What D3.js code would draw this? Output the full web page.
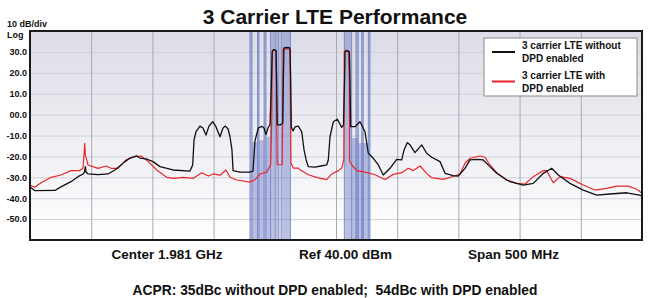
<!DOCTYPE html>
<html>
<head>
<meta charset="utf-8">
<script src="https://cdn.jsdelivr.net/npm/d3@7"></script>
<style>
  body { margin: 0; background: #fff; }
  svg text { font-family: "Liberation Sans", Arial, Helvetica, sans-serif; font-weight: bold; fill: #111; }
</style>
</head>
<body>
<div id="chart"></div>
<script>
// frequency in MHz, level in dBm
const freqDomain = [1731, 2231];
const levelDomain = [-60, 40];
const freqGrid = [1781, 1831, 1881, 1931, 1981, 2031, 2081, 2131, 2181];
const levelTicks = [30, 20, 10, 0, -10, -20, -30, -40, -50];
const levelLabels = ["30.0", "20.0", "10.0", "00.0", "-10.0", "-20.0", "-30.0", "-40.0", "-50.0"];

// 3 carrier LTE without DPD
const noDpdFreq = [1731, 1735.1, 1751.4, 1756.3, 1764.5, 1770.2, 1774.3, 1775.5, 1776.2, 1776.8, 1778.4, 1786.6, 1794.7,
  1800.4, 1808.6, 1812.7, 1818.2, 1820.9, 1825.8, 1831.5, 1837.2, 1847.8, 1861.7, 1863.9, 1865.0, 1866.6, 1869.9, 1872.3,
  1874.8, 1877.2, 1880.3, 1883.0, 1886.2, 1888.7, 1890.6, 1892.8, 1894.4, 1896.0, 1896.9, 1902.6, 1910.7, 1913.2, 1914.8,
  1917.5, 1920.3, 1922.2, 1923.8, 1925.4, 1927.1, 1928.3, 1928.9, 1929.9, 1932.0, 1932.5, 1933.0, 1935.3, 1937.5, 1938.0,
  1938.5, 1941.0, 1943.4, 1944.0, 1944.5, 1945.9, 1947.5, 1950.2, 1953.0, 1954.9, 1956.6, 1958.4, 1963.8, 1968.7, 1973.4,
  1974.7, 1976.1, 1978.8, 1982.1, 1985.7, 1987.1, 1988.0, 1988.4, 1990.0, 1991.9, 1992.4, 1993.0, 1996.5, 2000.6, 2004.7,
  2007.4, 2011.5, 2015.6, 2019.6, 2025.1, 2030.6, 2034.7, 2036.6, 2039.3, 2041.5, 2045.5, 2051.0, 2055.1, 2059.2, 2066.0,
  2070.1, 2076.8, 2080.9, 2086.4, 2090.5, 2096.0, 2101.3, 2106.8, 2112.3, 2120.5, 2123.2, 2134.0, 2142.2, 2150.4, 2157.2,
  2162.6, 2172.2, 2183.0, 2194.0, 2204.9, 2218.5, 2229.0, 2231];
const noDpdLevel = [-34.6, -36.4, -36.3, -34.6, -32.1, -29.7, -28.4, -27.5, -24.9, -27.5, -28.4, -28.7, -28.4,
  -26.5, -22.5, -20.8, -19.8, -20.8, -21.2, -22.5, -24.9, -26.5, -27.0, -24.1, -12.2, -8.2, -5.5, -6.4,
  -9.8, -5.5, -3.4, -5.9, -10.6, -6.4, -5.5, -6.9, -10.6, -16.9, -26.8, -27.5, -27.5, -27.0, -12.6,
  -6.4, -5.6, -6.4, -9.6, -6.4, -4.8, 16.6, 30.3, 31.1, 30.7, 16.6, -4.8, -5.0, -4.0, 16.6,
  31.9, 32.2, 31.9, 16.6, -5.9, -7.8, -5.9, -5.5, -8.2, -16.9, -21.7, -24.9, -25.1, -24.6, -24.1,
  -21.7, -10.6, -3.4, -2.2, -6.1, -5.0, 16.6, 30.0, 30.6, 30.0, 16.6, -5.8, -5.8, -3.4, -8.2,
  -18.5, -20.9, -24.1, -28.9, -25.7, -21.4, -21.7, -16.9, -13.4, -14.5, -18.2, -14.5, -18.5, -20.4, -22.5,
  -28.1, -29.2, -29.4, -25.7, -21.7, -21.4, -21.7, -24.9, -28.1, -31.3, -32.1, -33.7, -32.9, -28.1, -25.7,
  -28.9, -32.9, -36.1, -38.5, -38.0, -37.4, -38.5, -39.0];

// 3 carrier LTE with DPD
const dpdFreq = [1731, 1734.8, 1740.0, 1748.2, 1756.3, 1764.5, 1771.6, 1774.3, 1775.4, 1775.7, 1776.2, 1778.4, 1786.6,
  1793.1, 1797.2, 1802.9, 1809.4, 1816.5, 1821.7, 1827.7, 1834.5, 1842.7, 1848.1, 1856.2, 1864.4, 1871.3, 1876.7, 1880.8,
  1886.2, 1891.1, 1894.4, 1899.9, 1910.7, 1914.8, 1918.9, 1924.4, 1927.6, 1928.5, 1928.9, 1930.4, 1932.0, 1932.5, 1933.0,
  1937.0, 1937.4, 1937.8, 1941.0, 1943.4, 1943.9, 1944.2, 1946.1, 1950.2, 1951.6, 1958.4, 1966.5, 1973.4, 1977.5, 1982.9,
  1985.7, 1987.4, 1987.8, 1988.8, 1991.2, 1991.9, 1992.1, 1993.8, 1997.9, 2004.7, 2012.9, 2018.3, 2021.0, 2027.8, 2034.7,
  2040.1, 2044.2, 2049.6, 2055.1, 2059.2, 2068.7, 2078.2, 2082.3, 2086.4, 2090.5, 2098.7, 2102.7, 2106.8, 2112.3, 2120.5,
  2128.6, 2135.4, 2142.2, 2150.4, 2153.1, 2155.0, 2158.5, 2164.0, 2172.2, 2183.0, 2192.6, 2202.2, 2210.3, 2219.8, 2226.7, 2231];
const dpdLevel = [-33.7, -34.8, -32.6, -30.0, -28.9, -26.8, -26.8, -25.7, -16.9, -13.7, -19.3, -24.1, -25.7,
  -24.6, -25.7, -25.7, -21.7, -20.1, -19.8, -22.5, -26.5, -30.0, -30.5, -30.0, -30.5, -27.8, -29.4, -28.4,
  -29.0, -26.5, -30.0, -31.3, -32.3, -31.2, -28.4, -27.5, -24.0, -2.6, 30.0, 30.9, 30.4, -2.6, -24.0,
  -24.0, -2.6, 31.4, 31.6, 31.4, -2.6, -23.2, -25.6, -25.6, -26.4, -28.8, -30.3, -31.1, -28.4, -26.8,
  -25.6, -21.7, 30.0, 30.9, 30.4, 16.6, -22.3, -24.0, -26.8, -27.5, -28.8, -30.3, -31.0, -28.6, -27.8,
  -25.7, -26.8, -24.6, -28.1, -30.2, -31.0, -29.4, -28.4, -23.3, -20.9, -19.8, -20.4, -24.1, -27.8, -31.3,
  -32.9, -33.2, -29.7, -26.8, -26.8, -28.9, -32.6, -29.7, -30.5, -33.7, -36.1, -35.3, -34.2, -34.2, -35.7, -37.6];

// channel markers (MHz)
const bandStart = [1910.7, 1916.9, 1922.2, 1927.5, 1936.1, 1987.8, 1997.3, 2002.0, 2007.4];
const bandEnd   = [1912.4, 1918.1, 1923.8, 1934.4, 1943.8, 1993.8, 1999.2, 2003.3, 2008.8];
// shaded channel power between markers
const shadeStart = [1912.4, 1918.1, 1923.8, 1993.8, 1999.2];
const shadeEnd   = [1916.9, 1922.2, 1927.5, 1999.2, 2007.4];
const shadeLevel = [-13.1, -12.2, -10.7, -11.2, -13.6];

const seriesNames = ["3 carrier LTE without|DPD enabled", "3 carrier LTE with|DPD enabled"];
const seriesColors = ["#111111", "#e8262c"];

const W = 649, H = 298;
const plot = { left: 30, top: 31, right: 642, bottom: 240 };

const svg = d3.select("#chart").append("svg")
  .attr("width", W).attr("height", H);

const defs = svg.append("defs");
const grad = defs.append("linearGradient").attr("id", "bg").attr("x1", 0).attr("y1", 0).attr("x2", 0).attr("y2", 1);
grad.append("stop").attr("offset", "0%").attr("stop-color", "#dcdce7");
grad.append("stop").attr("offset", "100%").attr("stop-color", "#ffffff");
defs.append("clipPath").attr("id", "clip").append("rect")
  .attr("x", plot.left).attr("y", plot.top)
  .attr("width", plot.right - plot.left).attr("height", plot.bottom - plot.top);

const x = d3.scaleLinear().domain(freqDomain).range([plot.left, plot.right]);
const y = d3.scaleLinear().domain(levelDomain).range([plot.bottom, plot.top]);

// background
svg.append("rect")
  .attr("x", plot.left).attr("y", plot.top)
  .attr("width", plot.right - plot.left).attr("height", plot.bottom - plot.top)
  .attr("fill", "url(#bg)");

// horizontal grid
svg.append("g")
  .attr("transform", `translate(${plot.left},0)`)
  .call(d3.axisLeft(y).tickValues(levelTicks).tickSize(-(plot.right - plot.left)).tickFormat(""))
  .call(g => g.select(".domain").remove())
  .call(g => g.selectAll("line").attr("stroke", "#cfd0da").attr("stroke-width", 1));

// vertical grid
svg.append("g")
  .attr("transform", `translate(0,${plot.bottom})`)
  .call(d3.axisBottom(x).tickValues(freqGrid).tickSize(-(plot.bottom - plot.top)).tickFormat(""))
  .call(g => g.select(".domain").remove())
  .call(g => g.selectAll("line").attr("stroke", "#a9a9b3").attr("stroke-width", 1));

const marks = svg.append("g").attr("clip-path", "url(#clip)");

// shaded channel power
marks.selectAll(".shade")
  .data(shadeStart.map((s, i) => ({ s, e: shadeEnd[i], v: shadeLevel[i] })))
  .enter().append("rect")
  .attr("x", d => x(d.s)).attr("width", d => x(d.e) - x(d.s))
  .attr("y", d => y(d.v)).attr("height", d => y(levelDomain[0]) - y(d.v))
  .attr("fill", "#8a95cf").attr("opacity", 0.6);

// channel markers
marks.selectAll(".band")
  .data(bandStart.map((s, i) => ({ s, e: bandEnd[i] })))
  .enter().append("rect")
  .attr("x", d => x(d.s)).attr("width", d => x(d.e) - x(d.s))
  .attr("y", y(levelDomain[1])).attr("height", y(levelDomain[0]) - y(levelDomain[1]))
  .attr("fill", "#7583c8").attr("fill-opacity", 0.5)
  .attr("stroke", "#6474bd").attr("stroke-opacity", 0.7).attr("stroke-width", 1);

// traces
const line = d3.line().x(d => x(d[0])).y(d => y(d[1]));
marks.append("path")
  .datum(dpdFreq.map((f, i) => [f, dpdLevel[i]]))
  .attr("d", line).attr("fill", "none")
  .attr("stroke", seriesColors[1]).attr("stroke-width", 1.2).attr("stroke-linejoin", "round");
marks.append("path")
  .datum(noDpdFreq.map((f, i) => [f, noDpdLevel[i]]))
  .attr("d", line).attr("fill", "none")
  .attr("stroke", seriesColors[0]).attr("stroke-width", 1.3).attr("stroke-linejoin", "round");

// frame
svg.append("rect")
  .attr("x", plot.left).attr("y", plot.top)
  .attr("width", plot.right - plot.left).attr("height", plot.bottom - plot.top)
  .attr("fill", "none").attr("stroke", "#1a1a1a").attr("stroke-width", 2);

// y labels
svg.append("g")
  .attr("transform", `translate(${plot.left},0)`)
  .call(d3.axisLeft(y).tickValues(levelTicks).tickSize(0).tickPadding(3)
    .tickFormat((d, i) => levelLabels[i]))
  .call(g => g.select(".domain").remove())
  .call(g => g.selectAll("text")
    .style("font-family", "'Liberation Sans', Arial, sans-serif")
    .style("font-weight", "bold").style("font-size", "9px").attr("fill", "#111"));

svg.append("text").attr("x", 7).attr("y", 27).style("font-size", "9px").text("10 dB/div");
svg.append("text").attr("x", 7).attr("y", 38).style("font-size", "9px").text("Log");

// title
svg.append("text")
  .attr("x", 335).attr("y", 24)
  .attr("text-anchor", "middle")
  .style("font-size", "21px")
  .text("3 Carrier LTE Performance");

// bottom annotations
svg.append("text").attr("x", 167).attr("y", 259).attr("text-anchor", "middle")
  .style("font-size", "13.5px").text("Center 1.981 GHz");
svg.append("text").attr("x", 345.5).attr("y", 259).attr("text-anchor", "middle")
  .style("font-size", "13.5px").text("Ref 40.00 dBm");
svg.append("text").attr("x", 513.5).attr("y", 259).attr("text-anchor", "middle")
  .style("font-size", "13.5px").text("Span 500 MHz");
svg.append("text").attr("x", 335).attr("y", 295).attr("text-anchor", "middle")
  .style("font-size", "13.8px").style("white-space", "pre")
  .text("ACPR: 35dBc without DPD enabled;  54dBc with DPD enabled");

// legend
const legend = svg.append("g").attr("transform", "translate(484,38)");
legend.append("rect")
  .attr("width", 153).attr("height", 58)
  .attr("fill", "#fff").attr("stroke", "#8a8a8a").attr("stroke-width", 1);
seriesNames.forEach((name, i) => {
  const g = legend.append("g").attr("transform", `translate(0,${i * 29.5})`);
  g.append("line").attr("x1", 8).attr("x2", 31).attr("y1", 14).attr("y2", 14)
    .attr("stroke", seriesColors[i]).attr("stroke-width", 2);
  name.split("|").forEach((part, j) => {
    g.append("text").attr("x", 38).attr("y", 11 + j * 13)
      .style("font-size", "10px").text(part);
  });
});
</script>
</body>
</html>
